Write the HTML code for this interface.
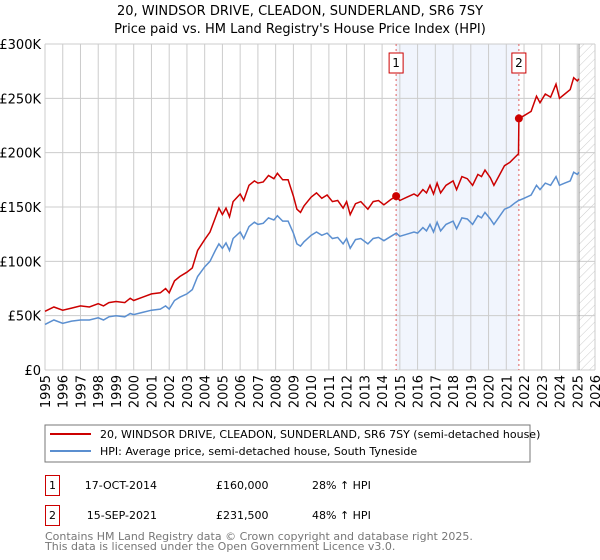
<!DOCTYPE html>
<html><head><meta charset="utf-8"><style>
body{margin:0;background:#fff;font-family:"Liberation Sans","DejaVu Sans",sans-serif;}
#wrap{position:relative;width:600px;height:560px;overflow:hidden;}
svg text{font-family:"DejaVu Sans","Liberation Sans",sans-serif;}
</style></head><body>
<div id="wrap">
<svg id="chart" width="600" height="560" xmlns="http://www.w3.org/2000/svg">
<defs><pattern id="hatch" width="6" height="6" patternUnits="userSpaceOnUse" patternTransform="rotate(45)"><line x1="0" y1="0" x2="0" y2="6" stroke="#ccc" stroke-width="1"/></pattern></defs>
<text x="300" y="15" text-anchor="middle" font-size="13" fill="#000">20, WINDSOR DRIVE, CLEADON, SUNDERLAND, SR6 7SY</text>
<text x="300" y="33" text-anchor="middle" font-size="13" fill="#000">Price paid vs. HM Land Registry's House Price Index (HPI)</text>
<g id="plot"></g>
<rect x="45" y="425" width="485" height="37" fill="#fff" stroke="#777"/>
<line x1="50" y1="434" x2="91" y2="434" stroke="#cc0000" stroke-width="2"/>
<text x="100" y="438" font-size="11">20, WINDSOR DRIVE, CLEADON, SUNDERLAND, SR6 7SY (semi-detached house)</text>
<line x1="50" y1="451" x2="91" y2="451" stroke="#5b8fd0" stroke-width="2"/>
<text x="100" y="455" font-size="11">HPI: Average price, semi-detached house, South Tyneside</text>
<rect x="45.5" y="475.5" width="14" height="20" fill="#fff" stroke="#cc0000"/>
<text x="52.5" y="489" font-size="11" text-anchor="middle">1</text>
<text x="157" y="489" font-size="11" text-anchor="end">17-OCT-2014</text>
<text x="216" y="489" font-size="11">£160,000</text>
<text x="312" y="489" font-size="11">28% ↑ HPI</text>
<rect x="45.5" y="505.5" width="14" height="20" fill="#fff" stroke="#cc0000"/>
<text x="52.5" y="519" font-size="11" text-anchor="middle">2</text>
<text x="157" y="519" font-size="11" text-anchor="end">15-SEP-2021</text>
<text x="216" y="519" font-size="11">£231,500</text>
<text x="312" y="519" font-size="11">48% ↑ HPI</text>
<text x="45" y="540" font-size="11" fill="#777">Contains HM Land Registry data © Crown copyright and database right 2025.</text>
<text x="45" y="550" font-size="11" fill="#777">This data is licensed under the Open Government Licence v3.0.</text>
</svg>
</div>
<script>
const years=[1995.0,1995.5,1996.0,1996.5,1997.0,1997.5,1998.0,1998.3,1998.6,1999.0,1999.5,1999.8,2000.0,2000.5,2001.0,2001.5,2001.8,2002.0,2002.3,2002.6,2003.0,2003.3,2003.6,2004.0,2004.3,2004.6,2004.8,2005.0,2005.2,2005.4,2005.6,2006.0,2006.2,2006.5,2006.8,2007.0,2007.3,2007.6,2007.9,2008.1,2008.4,2008.7,2009.0,2009.2,2009.4,2009.6,2010.0,2010.3,2010.6,2010.9,2011.2,2011.5,2011.8,2012.0,2012.2,2012.5,2012.8,2013.2,2013.5,2013.8,2014.1,2014.5,2014.8,2015.0,2015.4,2015.8,2016.0,2016.3,2016.5,2016.7,2016.9,2017.1,2017.3,2017.6,2018.0,2018.2,2018.5,2018.8,2019.1,2019.4,2019.6,2019.8,2020.1,2020.3,2020.6,2020.9,2021.2,2021.5,2021.69,2021.71,2022.0,2022.4,2022.7,2022.9,2023.2,2023.5,2023.8,2024.0,2024.3,2024.6,2024.8,2025.0,2025.1];
const hpiValues=[42,46,43,45,46,46,48,46,49,50,49,52,51,53,55,56,59,56,64,67,70,74,86,95,100,110,116,112,117,110,121,127,121,132,136,134,135,140,138,142,137,137,126,116,114,118,124,127,124,126,121,122,116,121,112,120,121,116,121,122,119,123,126,123,125,127,126,131,128,134,127,136,128,134,137,130,140,139,134,142,140,145,139,134,141,148,150,154,156,156,158,161,170,166,172,170,178,170,172,174,182,180,182];
const priceValues=[54,58,55,57,59,58,61,59,62,63,62,66,64,67,70,71,75,71,82,86,90,94,110,120,127,140,149,143,149,141,155,162,156,170,174,172,173,179,176,181,175,175,160,148,145,151,159,163,158,161,155,156,149,155,143,153,155,148,155,156,152,157,160,156,159,162,160,166,163,170,162,172,163,170,174,166,178,176,170,180,178,184,177,170,179,188,191,196,199,231.5,234,238,252,246,254,251,263,250,254,258,269,266,268];
const yTicks=[0,50,100,150,200,250,300];
const yTickLabels=["£0","£50K","£100K","£150K","£200K","£250K","£300K"];
const xTicks=[1995,1996,1997,1998,1999,2000,2001,2002,2003,2004,2005,2006,2007,2008,2009,2010,2011,2012,2013,2014,2015,2016,2017,2018,2019,2020,2021,2022,2023,2024,2025,2026];
const saleYears=[2014.79,2021.71];
const salePrices=[160,231.5];
const saleLabels=["1","2"];

const NS="http://www.w3.org/2000/svg";
const X0=45,X1=595,Y0=370,Y1=44;
const xS=y=>X0+(y-1995)/(2026-1995)*(X1-X0);
const yS=v=>Y0-v/300*(Y0-Y1);
const g=document.getElementById('plot');
function mk(tag,attrs){const e=document.createElementNS(NS,tag);for(const k in attrs)e.setAttribute(k,attrs[k]);g.appendChild(e);return e;}

let r=mk('rect',{x:xS(saleYears[0]),y:Y1,width:xS(saleYears[1])-xS(saleYears[0]),height:Y0-Y1,fill:'#eef3fc',opacity:0.8});


r=mk('rect',{x:xS(2025.1),y:Y1,width:X1-xS(2025.1),height:Y0-Y1,fill:'url(#hatch)'});



xTicks.forEach(t=>{
  const l=mk('line',{x1:xS(t),x2:xS(t),y1:Y1,y2:Y0,stroke:'#ccc','stroke-width':1});
  
  
  const tx=mk('text',{x:0,y:0,'font-size':13,'text-anchor':'end',transform:`translate(${xS(t)+5},375) rotate(-90)`});
  tx.textContent=t;
  
  
});
yTicks.forEach((t,i)=>{
  const l=mk('line',{x1:X0,x2:X1,y1:yS(t),y2:yS(t),stroke:'#ccc','stroke-width':1});
  
  
  const tx=mk('text',{x:41,y:yS(t)+5,'font-size':13,'text-anchor':'end'});
  tx.textContent=yTickLabels[i];
  
  
});
let ln=mk('line',{x1:xS(2025.1),x2:xS(2025.1),y1:Y1,y2:Y0,stroke:'#999','stroke-width':1});



saleYears.forEach((s,i)=>{
  const l=mk('line',{x1:xS(s),x2:xS(s),y1:Y1,y2:Y0,stroke:'#e06060','stroke-width':1,'stroke-dasharray':'2,3'});
  
  
  const b=mk('rect',{x:xS(s)-7,y:53,width:14,height:20,fill:'#fff',stroke:'#cc0000'});
  
  
  const t=mk('text',{x:xS(s),y:67,'font-size':12,'text-anchor':'middle'});
  t.textContent=saleLabels[i];
  
  
});

function path(vals){return vals.map((v,i)=>(i?'L':'M')+xS(years[i]).toFixed(1)+','+yS(v).toFixed(1)).join(' ');}
const hp=mk('path',{d:path(hpiValues),fill:'none',stroke:'#5b8fd0','stroke-width':1.5});


const pp=mk('path',{d:path(priceValues),fill:'none',stroke:'#cc0000','stroke-width':1.5});


saleYears.forEach((s,i)=>{
  const c=mk('circle',{cx:xS(s),cy:yS(salePrices[i]),r:4,fill:'#cc0000'});
  
  
});
</script>
</body></html>
